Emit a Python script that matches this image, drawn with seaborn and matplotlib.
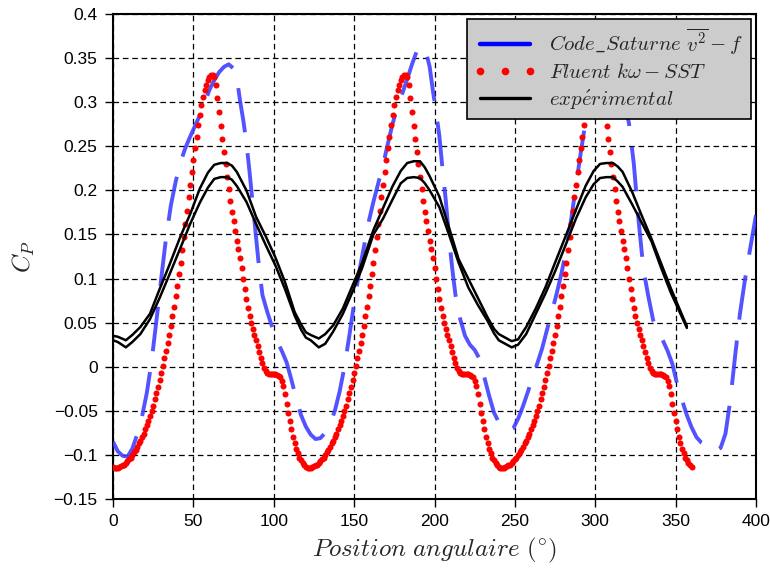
import numpy as np
import pandas as pd
import matplotlib
matplotlib.use("Agg")
import matplotlib.pyplot as plt
from matplotlib.lines import Line2D
from matplotlib.ticker import FuncFormatter, MultipleLocator
import seaborn as sns

# ---------------- data ----------------
saturne_angle = [0, 3, 6, 9, 12, 15, 18, 21, 24, 27, 30, 33, 36, 39, 42, 45, 48, 51, 54, 57,
                 60, 63, 66, 69, 72, 75, 77, 79, 81, 83, 85, 87, 89, 91, 93, 96, 99, 102, 105, 108,
                 111, 114, 117, 120, 123, 126, 129, 132, 135, 138, 141, 144, 147, 150, 153, 156, 159, 162, 165, 168,
                 171, 174, 177, 180, 183, 186, 189, 192, 195, 197, 199, 201, 203, 205, 207, 209, 211, 213, 216, 219,
                 222, 225, 228, 231, 234, 237, 240, 243, 246, 249, 252, 255, 258, 261, 264, 267, 270, 273, 276, 279,
                 282, 285, 288, 291, 294, 297, 300, 303, 306, 309, 312, 315, 318, 321, 324, 327, 330, 333, 336, 339,
                 342, 345, 348, 351, 354, 357, 360, 363, 366, 369, 372, 375, 378, 381, 384, 387, 390, 393, 396, 400]
saturne_cp = [-0.085, -0.096, -0.101, -0.102, -0.093, -0.077, -0.057, -0.030, 0.006, 0.052,
              0.100, 0.146, 0.183, 0.210, 0.232, 0.248, 0.261, 0.273, 0.285, 0.299,
              0.314, 0.325, 0.334, 0.340, 0.343, 0.338, 0.328, 0.302, 0.280, 0.254,
              0.220, 0.183, 0.145, 0.110, 0.081, 0.062, 0.045, 0.029, 0.018, 0.005,
              -0.015, -0.036, -0.055, -0.068, -0.077, -0.082, -0.081, -0.075, -0.065, -0.050,
              -0.028, 0.000, 0.035, 0.072, 0.106, 0.135, 0.164, 0.187, 0.208, 0.229,
              0.253, 0.276, 0.295, 0.310, 0.326, 0.343, 0.358, 0.364, 0.355, 0.340,
              0.313, 0.289, 0.262, 0.224, 0.189, 0.147, 0.112, 0.082, 0.054, 0.035,
              0.025, 0.019, 0.009, -0.012, -0.033, -0.052, -0.063, -0.070, -0.073, -0.070,
              -0.059, -0.045, -0.029, -0.012, 0.004, 0.021, 0.042, 0.062, 0.083, 0.106,
              0.133, 0.167, 0.205, 0.243, 0.278, 0.300, 0.318, 0.330, 0.337, 0.338,
              0.332, 0.318, 0.300, 0.276, 0.230, 0.165, 0.110, 0.080, 0.053, 0.040,
              0.030, 0.018, 0.003, -0.020, -0.038, -0.055, -0.069, -0.080, -0.086, -0.089,
              -0.093, -0.096, -0.092, -0.076, -0.038, 0.012, 0.060, 0.097, 0.130, 0.172]

fluent_angle = np.arange(0, 361, 1)
fluent_cp = [
    -0.114, -0.115, -0.115, -0.115, -0.114, -0.113, -0.112, -0.111, -0.109, -0.107,
    -0.105, -0.103, -0.100, -0.097, -0.094, -0.091, -0.087, -0.084, -0.080, -0.076,
    -0.071, -0.066, -0.061, -0.056, -0.050, -0.044, -0.037, -0.030, -0.023, -0.015,
    -0.007, 0.001, 0.010, 0.018, 0.027, 0.036, 0.046, 0.057, 0.068, 0.080,
    0.092, 0.105, 0.118, 0.132, 0.147, 0.162, 0.177, 0.192, 0.206, 0.221,
    0.235, 0.248, 0.261, 0.274, 0.286, 0.297, 0.306, 0.314, 0.320, 0.325,
    0.329, 0.331, 0.331, 0.328, 0.320, 0.305, 0.289, 0.273, 0.258, 0.244,
    0.230, 0.215, 0.201, 0.188, 0.176, 0.165, 0.154, 0.143, 0.133, 0.123,
    0.112, 0.100, 0.088, 0.077, 0.067, 0.058, 0.050, 0.043, 0.036, 0.030,
    0.024, 0.017, 0.010, 0.004, -0.002, -0.005, -0.007, -0.008, -0.008, -0.008,
    -0.008, -0.008, -0.009, -0.010, -0.012, -0.016, -0.022, -0.031, -0.042, -0.052,
    -0.062, -0.071, -0.080, -0.087, -0.093, -0.098, -0.103, -0.106, -0.109, -0.112,
    -0.114, -0.115, -0.115, -0.115, -0.114, -0.113, -0.112, -0.111, -0.109, -0.107,
    -0.105, -0.103, -0.100, -0.097, -0.094, -0.091, -0.087, -0.084, -0.080, -0.076,
    -0.071, -0.066, -0.061, -0.056, -0.050, -0.044, -0.037, -0.030, -0.023, -0.015,
    -0.007, 0.001, 0.010, 0.018, 0.027, 0.036, 0.046, 0.057, 0.068, 0.080,
    0.092, 0.105, 0.118, 0.132, 0.147, 0.162, 0.177, 0.192, 0.206, 0.221,
    0.235, 0.248, 0.261, 0.274, 0.286, 0.297, 0.306, 0.314, 0.320, 0.325,
    0.329, 0.331, 0.331, 0.328, 0.320, 0.305, 0.289, 0.273, 0.258, 0.244,
    0.230, 0.215, 0.201, 0.188, 0.176, 0.165, 0.154, 0.143, 0.133, 0.123,
    0.112, 0.100, 0.088, 0.077, 0.067, 0.058, 0.050, 0.043, 0.036, 0.030,
    0.024, 0.017, 0.010, 0.004, -0.002, -0.005, -0.007, -0.008, -0.008, -0.008,
    -0.008, -0.008, -0.009, -0.010, -0.012, -0.016, -0.022, -0.031, -0.042, -0.052,
    -0.062, -0.071, -0.080, -0.087, -0.093, -0.098, -0.103, -0.106, -0.109, -0.112,
    -0.114, -0.115, -0.115, -0.115, -0.114, -0.113, -0.112, -0.111, -0.109, -0.107,
    -0.105, -0.103, -0.100, -0.097, -0.094, -0.091, -0.087, -0.084, -0.080, -0.076,
    -0.071, -0.066, -0.061, -0.056, -0.050, -0.044, -0.037, -0.030, -0.023, -0.015,
    -0.007, 0.001, 0.010, 0.018, 0.027, 0.036, 0.046, 0.057, 0.068, 0.080,
    0.092, 0.105, 0.118, 0.132, 0.147, 0.162, 0.177, 0.192, 0.206, 0.221,
    0.235, 0.248, 0.261, 0.274, 0.286, 0.297, 0.306, 0.314, 0.320, 0.325,
    0.329, 0.331, 0.331, 0.328, 0.320, 0.305, 0.289, 0.273, 0.258, 0.244,
    0.230, 0.215, 0.201, 0.188, 0.176, 0.165, 0.154, 0.143, 0.133, 0.123,
    0.112, 0.100, 0.088, 0.077, 0.067, 0.058, 0.050, 0.043, 0.036, 0.030,
    0.024, 0.017, 0.010, 0.004, -0.002, -0.005, -0.007, -0.008, -0.008, -0.008,
    -0.008, -0.008, -0.009, -0.010, -0.012, -0.016, -0.022, -0.031, -0.042, -0.052,
    -0.062, -0.071, -0.080, -0.087, -0.093, -0.098, -0.103, -0.106, -0.109, -0.112,
    -0.114]

exp_angle = [0, 3, 8, 12, 17, 23, 29, 35, 42, 48, 54, 59, 63, 67, 71, 74, 77, 83, 89, 95, 101, 107, 113, 117,
             120, 123, 128, 132, 137, 143, 149, 155, 162, 168, 174, 179, 183, 187, 191, 194, 197, 203, 209, 215, 221, 227, 233, 237,
             240, 243, 248, 252, 257, 263, 269, 275, 282, 288, 294, 299, 303, 307, 311, 314, 317, 323, 329, 335, 341, 347, 353, 357]
exp_upper = [0.035, 0.034, 0.030, 0.036, 0.045, 0.060, 0.088, 0.115, 0.148, 0.173, 0.202, 0.220,
             0.229, 0.231, 0.231, 0.228, 0.221, 0.200, 0.170, 0.148, 0.124, 0.096, 0.062, 0.048,
             0.039, 0.036, 0.032, 0.037, 0.047, 0.066, 0.092, 0.118, 0.155, 0.180, 0.205, 0.222,
             0.231, 0.233, 0.233, 0.226, 0.216, 0.193, 0.158, 0.122, 0.100, 0.078, 0.056, 0.043,
             0.037, 0.034, 0.029, 0.031, 0.045, 0.066, 0.090, 0.118, 0.150, 0.178, 0.205, 0.222,
             0.230, 0.231, 0.231, 0.227, 0.221, 0.198, 0.171, 0.145, 0.117, 0.089, 0.063, 0.046]
exp_lower = [0.030, 0.028, 0.022, 0.028, 0.037, 0.054, 0.078, 0.104, 0.135, 0.162, 0.186, 0.203,
             0.213, 0.215, 0.215, 0.212, 0.205, 0.187, 0.162, 0.138, 0.115, 0.088, 0.058, 0.042,
             0.033, 0.030, 0.022, 0.026, 0.040, 0.060, 0.085, 0.112, 0.150, 0.168, 0.190, 0.208,
             0.214, 0.215, 0.214, 0.208, 0.200, 0.181, 0.150, 0.118, 0.090, 0.070, 0.052, 0.038,
             0.030, 0.027, 0.022, 0.025, 0.037, 0.060, 0.083, 0.108, 0.140, 0.168, 0.192, 0.207,
             0.214, 0.215, 0.215, 0.210, 0.204, 0.184, 0.163, 0.142, 0.112, 0.084, 0.060, 0.044]

labels = [r"$Code\_Saturne\ \overline{v^2}-f$",
          r"$Fluent\ k\omega-SST$",
          r"$exp\acute{e}rimental$"]

# ---------------- style ----------------
sns.set_style("ticks")
plt.rcParams["font.family"] = ["Liberation Sans", "DejaVu Sans"]
plt.rcParams["mathtext.fontset"] = "cm"
plt.rcParams["axes.unicode_minus"] = True

blue = (0.25, 0.25, 1.0)

fig = plt.figure(figsize=(7.7, 5.69), dpi=100)
ax = fig.add_axes([113 / 770, 1 - 499 / 569, (756 - 113) / 770, (499 - 14) / 569])

sat_df = pd.DataFrame({"angle": saturne_angle, "cp": saturne_cp})
flu_df = pd.DataFrame({"angle": fluent_angle, "cp": fluent_cp})
up_df = pd.DataFrame({"angle": exp_angle, "cp": exp_upper})
lo_df = pd.DataFrame({"angle": exp_angle, "cp": exp_lower})

sns.lineplot(data=sat_df, x="angle", y="cp", ax=ax, sort=False, estimator=None,
             color=blue, alpha=0.9, linewidth=2.8, linestyle=(0, (11.5, 5.4)), zorder=3)
sns.scatterplot(data=flu_df, x="angle", y="cp", ax=ax, color="red", s=19,
                linewidth=0, zorder=4)
sns.lineplot(data=up_df, x="angle", y="cp", ax=ax, sort=False, estimator=None,
             color="black", linewidth=1.8, zorder=5)
sns.lineplot(data=lo_df, x="angle", y="cp", ax=ax, sort=False, estimator=None,
             color="black", linewidth=1.8, zorder=5)

ax.set_xlim(0, 400)
ax.set_ylim(-0.15, 0.4)
ax.xaxis.set_major_locator(MultipleLocator(50))
ax.yaxis.set_major_locator(MultipleLocator(0.05))
ax.yaxis.set_major_formatter(FuncFormatter(lambda v, p: ("%g" % round(v, 3)).replace("-", "\u2212")))
ax.xaxis.set_major_formatter(FuncFormatter(lambda v, p: "%g" % v))

ax.grid(True, color="black", linestyle=(0, (4.5, 3)), linewidth=0.9)
ax.set_axisbelow(True)
for s in ax.spines.values():
    s.set_linewidth(1.5)
    s.set_color("black")
ax.tick_params(direction="out", length=6, width=1, labelsize=12.5, pad=5, colors="black")

ax.set_xlabel(r"$Position\ angulaire\ (^{\circ})$", fontsize=18, labelpad=5)
ax.set_ylabel(r"$C_P$", fontsize=18, labelpad=12)

handles = [Line2D([], [], color="blue", linewidth=3.2),
           Line2D([], [], color="red", marker="o", markersize=4.5, linestyle="none"),
           Line2D([], [], color="black", linewidth=2.4)]
leg = ax.legend(handles, labels, loc="upper right", bbox_to_anchor=(1.0, 1.0),
                fontsize=15, numpoints=3, handlelength=3.0, handletextpad=0.6,
                labelspacing=0.28, borderpad=0.35, borderaxespad=0.25,
                fancybox=False, framealpha=1, facecolor="#cccccc", edgecolor="black")
leg.get_frame().set_linewidth(1.2)
leg.set_zorder(10)

fig.savefig("out.png", dpi=100)
